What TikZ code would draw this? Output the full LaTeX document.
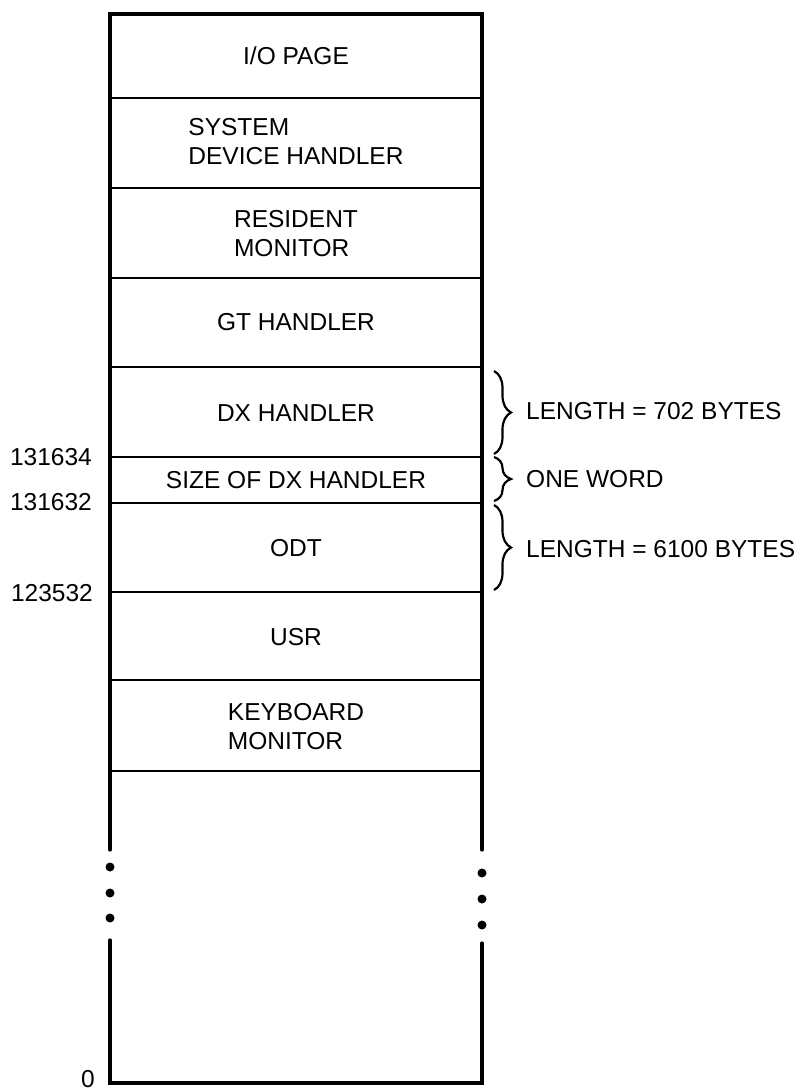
\documentclass[tikz,border=0pt]{standalone}
\usepackage{fontspec}
\setmainfont{Liberation Sans}
\usetikzlibrary{decorations.pathreplacing}

\begin{document}
\begin{tikzpicture}[
    x=1pt, y=-1pt,
    every node/.style={font=\fontsize{24.5}{29}\selectfont, inner sep=0pt},
    wall/.style={line width=3.2pt, line cap=round},
    divider/.style={line width=2pt},
    region/.style={align=left},
    addr/.style={anchor=east},
    note/.style={anchor=west},
    brc/.style={decorate, decoration={brace, amplitude=17pt}, line width=2.2pt},
    dot/.style={circle, fill, inner sep=0pt, minimum size=9pt}
]
\useasboundingbox (0,0) rectangle (804,1092);

%% Outer walls (broken by dots)
\draw[wall] (110,850) -- (110,14) -- (482,14) -- (482,850);
\draw[wall] (110,940) -- (110,1083) -- (482,1083) -- (482,943);
\foreach \y in {867,893,918} \node[dot] (ldot\y) at (110,\y) {};
\foreach \y in {873,899,925} \node[dot] (rdot\y) at (482,\y) {};

%% Region boundaries
\foreach \y in {98,188,278,367,457,503,592,680,771}
  \draw[divider] (110,\y) -- (482,\y);

%% Regions
\node[region] (iopage) at (296,56) {I/O PAGE};
\node[region] (sysdev) at (296,142) {SYSTEM\\DEVICE HANDLER};
\node[region] (resmon) at (296,234) {RESIDENT\\MONITOR};
\node[region] (gthand) at (296,322) {GT HANDLER};
\node[region] (dxhand) at (296,413) {DX HANDLER};
\node[region] (dxsize) at (296,480) {SIZE OF DX HANDLER};
\node[region] (odt) at (296,548) {ODT};
\node[region] (usr) at (296,637) {USR};
\node[region] (kmon) at (296,727) {KEYBOARD\\MONITOR};

%% Addresses
\node[addr] (a131634) at (92,457) {131634};
\node[addr] (a131632) at (92,502) {131632};
\node[addr] (a123532) at (93,593) {123532};
\node[addr] (azero) at (95,1079) {0};

%% Lengths
\coordinate (dxtop) at (494,371);
\coordinate (dxbot) at (494,454);
\coordinate (wdtop) at (494,457);
\coordinate (wdbot) at (494,501);
\coordinate (odtop) at (494,505);
\coordinate (odbot) at (494,590);
\draw[brc] (dxtop) -- (dxbot);
\draw[brc] (wdtop) -- (wdbot);
\draw[brc] (odtop) -- (odbot);
\node[note] (dxlen) at (526,411) {LENGTH = 702 BYTES};
\node[note] (oneword) at (526,479) {ONE WORD};
\node[note] (odtlen) at (526,549) {LENGTH = 6100 BYTES};

\end{tikzpicture}
\end{document}
